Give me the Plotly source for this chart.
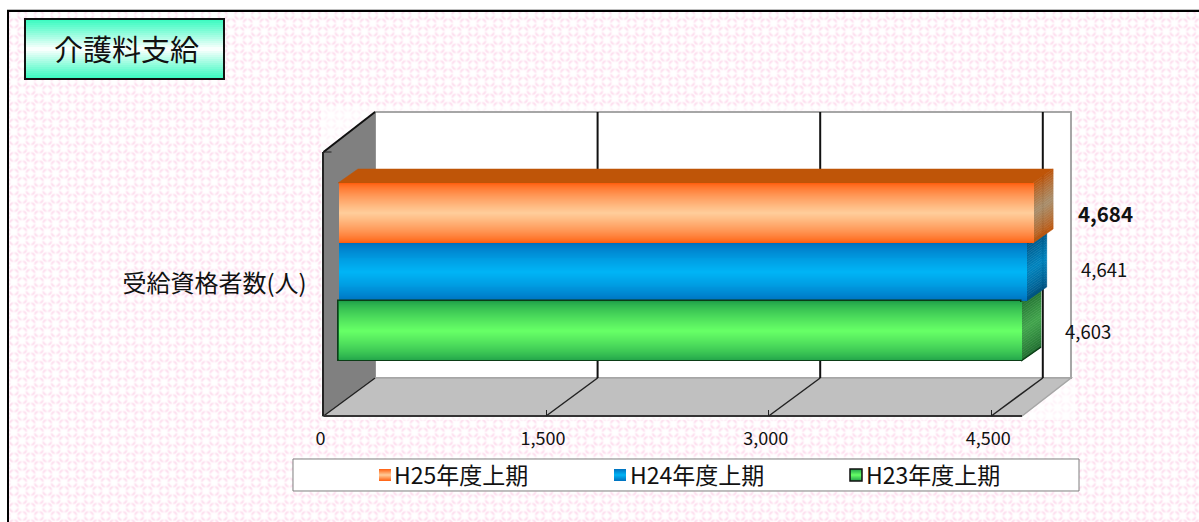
import base64, struct, zlib
import numpy as np
import plotly.graph_objects as go

W, H = 1199, 522
TITLE = "介護料支給"
CATEGORY = ["受給資格者数(人)"]
SERIES = ["H25年度上期", "H24年度上期", "H23年度上期"]
VALUES = [4684, 4641, 4603]
TICKS = [0, 1500, 3000, 4500]
FONT = "Noto Sans CJK JP"

PX_PER_UNIT = 0.1484
FRONT_0, BAR_0, BACK_0 = 323.5, 338.0, 375.0
FRONT_END, BACK_END = 1022.0, 1071.0
AXIS_END = 1100.0
WALL_TOP, WALL_BOT = 152.0, 416.0
BACK_TOP, BACK_BOT = 112.0, 378.0
DEPTH_X, DEPTH_Y = 20.0, 14.0

# front face of every bar, in pixels: top, bottom
BAR_ROWS = [(183, 243), (243, 301), (301, 361)]
FRONT_EDGE = ["#FF5F0F", "#0070BE", "#1FA049"]
FRONT_MID = ["#FFCC99", "#00B4F5", "#66FF66"]
SIDE_EDGE = ["#BE5206", "#00507F", "#1E6A2E"]
SIDE_MID = ["#A88E6C", "#0084BE", "#41A44C"]
LABEL_POS = [(1077, 213), (1080, 269), (1064, 331)]
LEGEND_SWATCH = [379, 614, 850]
LEGEND_TEXT = [395, 631, 867]


def fx(p):
    return p / W


def fy(p):
    return 1 - p / H


def mix(a, b, t):
    ca = [int(a[i:i + 2], 16) for i in (1, 3, 5)]
    cb = [int(b[i:i + 2], 16) for i in (1, 3, 5)]
    return "#%02X%02X%02X" % tuple(round(x + (y - x) * t) for x, y in zip(ca, cb))


def background_png():
    yy, xx = np.mgrid[0:H, 0:W].astype(float)
    period = 16.7
    u = (xx - 5.0) / period
    v = (yy - 14.5) / period
    best = np.full(xx.shape, 0.0)
    for shift in (0.0, 0.5):
        du = (u + shift) - np.round(u + shift)
        dv = (v + shift) - np.round(v + shift)
        dx, dy = du * period, dv * period
        r = np.hypot(dx, dy)
        ring = np.exp(-((r - 4.2) / 1.3) ** 2)
        lobes = 0.2 + 0.8 * np.abs(np.sin(2 * np.arctan2(dy, dx)))
        best = np.maximum(best, ring * lobes)
    fade = np.ones(xx.shape)
    fade[(xx > 320) & (xx < 1075) & (yy > 106) & (yy < 420)] = 0.35
    amount = (best * fade * 0.5)[..., None]
    img = 255 - amount * (255 - np.array([251, 190, 222]))
    img[(xx < 9) | (yy < 12)] = 255
    img[(yy >= 10) & (yy < 12) & (xx >= 7)] = 0
    img[(xx >= 7) & (xx < 9) & (yy >= 10)] = 0
    img[(yy >= 9) & (yy < 10) & (xx >= 7)] = 190
    rgb = img.round().astype(np.uint8)
    raw = b"".join(b"\x00" + rgb[r].tobytes() for r in range(H))

    def chunk(tag, data):
        return struct.pack(">I", len(data)) + tag + data + struct.pack(">I", zlib.crc32(tag + data))

    png = b"\x89PNG\r\n\x1a\n" + chunk(b"IHDR", struct.pack(">IIBBBBB", W, H, 8, 2, 0, 0, 0)) \
        + chunk(b"IDAT", zlib.compress(raw, 9)) + chunk(b"IEND", b"")
    return "data:image/png;base64," + base64.b64encode(png).decode()


shapes = []


def poly(points, fill, line=None, width=0):
    path = "M" + "L".join(f"{fx(x):.5f},{fy(y):.5f}" for x, y in points) + "Z"
    shapes.append(dict(type="path", xref="paper", yref="paper", path=path, fillcolor=fill,
                       line=dict(color=line or fill, width=width), layer="below"))


def seg(x0, y0, x1, y1, color, width):
    shapes.append(dict(type="line", xref="paper", yref="paper", x0=fx(x0), y0=fy(y0), x1=fx(x1), y1=fy(y1),
                       line=dict(color=color, width=width), layer="below"))


# back wall, left wall and floor
poly([(BACK_0, BACK_TOP), (BACK_END, BACK_TOP), (BACK_END, BACK_BOT), (BACK_0, BACK_BOT)], "#FFFFFF", "#A6A6A6", 2)
poly([(FRONT_0, WALL_TOP), (BACK_0, BACK_TOP), (BACK_0, BACK_BOT), (FRONT_0, WALL_BOT)], "#808080", "#808080", 1)
poly([(FRONT_0, WALL_BOT), (BACK_0, BACK_BOT), (BACK_END, BACK_BOT), (FRONT_END, WALL_BOT)], "#C0C0C0", "#A6A6A6", 1.5)
seg(FRONT_0, WALL_TOP, BACK_0, BACK_TOP, "#111111", 2)
seg(FRONT_0, WALL_BOT, BACK_0, BACK_BOT, "#222222", 1.5)
seg(FRONT_0, WALL_BOT, FRONT_END, WALL_BOT, "#333333", 2)
seg(FRONT_0, WALL_TOP, FRONT_0 + 8, WALL_TOP, "#222222", 1)
for t in TICKS[1:]:
    bx = BACK_0 + t * PX_PER_UNIT
    seg(bx, BACK_TOP, bx, BACK_BOT, "#111111", 2)
    seg(bx, BACK_BOT, FRONT_0 + t * PX_PER_UNIT, WALL_BOT, "#222222", 1.5)

# visible depth faces of the bars, computed from the values on the bar axis
dx_units = DEPTH_X / PX_PER_UNIT


def value_poly(points, fill):
    path = "M" + "L".join(f"{x:.2f},{fy(y):.5f}" for x, y in points) + "Z"
    shapes.append(dict(type="path", xref="x2", yref="paper", path=path, fillcolor=fill,
                       line=dict(color=fill, width=0.5), layer="below"))


value_poly([(0, 183), (VALUES[0], 183), (VALUES[0] + dx_units, 183 - DEPTH_Y), (dx_units, 183 - DEPTH_Y)], "#BF5508")
for i in (2, 1, 0):
    top, bot = BAR_ROWS[i]
    strips = 24
    for s in range(strips):
        y0 = top + (bot - top) * s / strips
        y1 = top + (bot - top) * (s + 1) / strips
        t = 1 - abs((s + 0.5) / strips * 2 - 1)
        value_poly([(VALUES[i], y0), (VALUES[i] + dx_units, y0 - DEPTH_Y),
                    (VALUES[i] + dx_units, y1 - DEPTH_Y), (VALUES[i], y1)],
                   mix(SIDE_EDGE[i], SIDE_MID[i], t ** 0.8))
green_end = BAR_0 + VALUES[2] * PX_PER_UNIT
seg(green_end, BAR_ROWS[2][1], green_end + DEPTH_X, BAR_ROWS[2][1] - DEPTH_Y, "#0B3D16", 1.5)

# title plate
TX0, TX1, TY0, TY1 = 25, 224, 19, 79
bands = 30
for s in range(bands):
    y0 = TY0 + (TY1 - TY0) * s / bands
    y1 = TY0 + (TY1 - TY0) * (s + 1) / bands
    t = 1 - abs((s + 0.5) / bands * 2 - 1)
    poly([(TX0, y0), (TX1, y0), (TX1, y1), (TX0, y1)], mix("#38FBC0", "#FFFFFF", t ** 1.1))
poly([(TX0, TY0), (TX1, TY0), (TX1, TY1), (TX0, TY1)], "rgba(0,0,0,0)", "#111111", 2)

# legend plate
poly([(293, 459), (1079, 459), (1079, 491), (293, 491)], "#FFFFFF", "#7F7F7F", 1)
for i, left in enumerate(LEGEND_SWATCH):
    steps = 12
    for s in range(steps):
        y0 = 469 + 12 * s / steps
        y1 = 469 + 12 * (s + 1) / steps
        t = 1 - abs((s + 0.5) / steps * 2 - 1)
        poly([(left, y0), (left + 12, y0), (left + 12, y1), (left, y1)], mix(FRONT_EDGE[i], FRONT_MID[i], t))
    if i == 2:
        poly([(left, 469), (left + 12, 469), (left + 12, 481), (left, 481)], "rgba(0,0,0,0)", "#111111", 1.5)

fig = go.Figure()

# a transparent trace keeps the lower x axis and the category axis alive with their ticks
fig.add_trace(go.Bar(x=[0], y=CATEGORY, orientation="h", xaxis="x", yaxis="y", hoverinfo="skip",
                     showlegend=False, marker_color="rgba(0,0,0,0)"))

UNIT_PX = WALL_BOT - WALL_TOP
CENTER_PX = (WALL_BOT + WALL_TOP) / 2
for i, (name, val) in enumerate(zip(SERIES, VALUES)):
    top, bot = BAR_ROWS[i]
    full = (bot - top) / UNIT_PX
    mid = (CENTER_PX - (top + bot) / 2) / UNIT_PX
    layers = 30
    for k in range(layers):
        share = 1 - k / layers
        width = full * share
        t = (k / (layers - 1)) ** 0.75
        fig.add_trace(go.Bar(
            x=[val], y=CATEGORY, orientation="h", width=[width], offset=[mid - width / 2],
            xaxis="x2", yaxis="y", name=name, showlegend=False,
            hovertemplate=f"{name}: %{{x:,}}<extra></extra>",
            marker=dict(color=mix(FRONT_EDGE[i], FRONT_MID[i], t),
                        line=dict(color="#0B3D16", width=1.5) if (i == 2 and k == 0) else dict(width=0)),
        ))

annotations = [
    dict(text=TITLE, x=fx(126), y=fy(48), xanchor="center", yanchor="middle",
         font=dict(size=29, color="#111111", family=FONT)),
]
for i, val in enumerate(VALUES):
    x, y = LABEL_POS[i]
    bold = i == 0
    annotations.append(dict(text=f"<b>{val:,}</b>" if bold else f"{val:,}", x=fx(x), y=fy(y),
                            xanchor="left", yanchor="middle",
                            font=dict(size=20.5 if bold else 18.5, color="#111111", family=FONT)))
for name, x in zip(SERIES, LEGEND_TEXT):
    annotations.append(dict(text=name, x=fx(x - 2), y=fy(474), xanchor="left", yanchor="middle",
                            font=dict(size=23, color="#111111", family=FONT)))
for a in annotations:
    a.update(xref="paper", yref="paper", showarrow=False, borderpad=0, align="left")

fig.update_layout(
    width=W, height=H, autosize=False, margin=dict(l=0, r=0, t=0, b=0, autoexpand=False),
    paper_bgcolor="#FFFFFF", plot_bgcolor="rgba(0,0,0,0)",
    barmode="overlay", showlegend=False, bargap=0,
    font=dict(family=FONT, color="#111111"),
    xaxis=dict(domain=[fx(FRONT_0), fx(AXIS_END)], range=[0, (AXIS_END - FRONT_0) / PX_PER_UNIT],
               tickvals=TICKS, tickformat=",", showgrid=False, zeroline=False,
               showline=False, ticks="inside", ticklen=6, tickcolor="#222222",
               tickfont=dict(size=18, color="#111111"), ticklabelstandoff=10, ticklabelshift=-3,
               anchor="y", fixedrange=True, automargin=False),
    xaxis2=dict(domain=[fx(FRONT_0), fx(AXIS_END)],
                range=[(FRONT_0 - BAR_0) / PX_PER_UNIT, (AXIS_END - BAR_0) / PX_PER_UNIT],
                overlaying="x", visible=False, anchor="y", fixedrange=True),
    yaxis=dict(domain=[fy(WALL_BOT), fy(WALL_TOP)], type="category", categoryarray=CATEGORY,
               range=[-0.5, 0.5], showgrid=False, zeroline=False, showline=True, linecolor="#222222",
               linewidth=2, ticks="", tickfont=dict(size=24, color="#111111"), ticklabelstandoff=10,
               anchor="x", fixedrange=True, automargin=False),
    images=[dict(source=background_png(), xref="paper", yref="paper", x=0, y=1, sizex=1, sizey=1,
                 xanchor="left", yanchor="top", sizing="stretch", layer="below")],
    shapes=shapes, annotations=annotations,
)

fig.write_html("out.html", config=dict(displayModeBar=False),
               post_script="document.body.style.margin='0';document.body.style.overflow='hidden';")
